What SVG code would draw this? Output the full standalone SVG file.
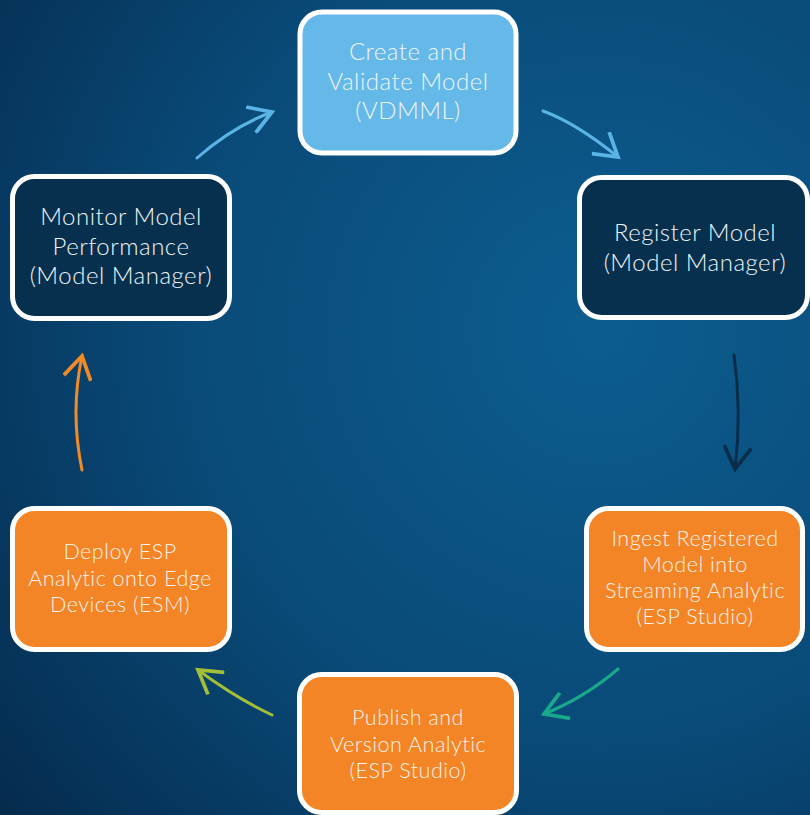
<svg xmlns="http://www.w3.org/2000/svg" width="810" height="815" viewBox="0 0 810 815">
  <defs>
    <radialGradient id="bg" cx="600" cy="330" r="760" gradientUnits="userSpaceOnUse">
      <stop offset="0" stop-color="#0c5d8f"/>
      <stop offset="0.55" stop-color="#094a78"/>
      <stop offset="1" stop-color="#052c4f"/>
    </radialGradient>
    <marker id="mLight" markerUnits="userSpaceOnUse" markerWidth="30" markerHeight="30" viewBox="-20 -12 22 24" refX="0" refY="0" orient="auto">
      <path d="M-18,-11 L0,0 L-18,11" fill="none" stroke="#5ab4e6" stroke-width="3"/>
    </marker>
    <marker id="mNavy" markerUnits="userSpaceOnUse" markerWidth="30" markerHeight="30" viewBox="-20 -12 22 24" refX="0" refY="0" orient="auto">
      <path d="M-18,-11 L0,0 L-18,11" fill="none" stroke="#0a2e4a" stroke-width="3"/>
    </marker>
    <marker id="mTeal" markerUnits="userSpaceOnUse" markerWidth="30" markerHeight="30" viewBox="-20 -12 22 24" refX="0" refY="0" orient="auto">
      <path d="M-18,-11 L0,0 L-18,11" fill="none" stroke="#17a98a" stroke-width="3"/>
    </marker>
    <marker id="mLime" markerUnits="userSpaceOnUse" markerWidth="30" markerHeight="30" viewBox="-20 -12 22 24" refX="0" refY="0" orient="auto">
      <path d="M-18,-11 L0,0 L-18,11" fill="none" stroke="#a3bf37" stroke-width="3"/>
    </marker>
    <marker id="mOrange" markerUnits="userSpaceOnUse" markerWidth="30" markerHeight="30" viewBox="-20 -12 22 24" refX="0" refY="0" orient="auto">
      <path d="M-18,-11 L0,0 L-18,11" fill="none" stroke="#f28a25" stroke-width="3"/>
    </marker>
  </defs>
  <style>
    .box { stroke: #ffffff; stroke-width: 5; }
    .light { fill: #64b9e8; }
    .navy { fill: #06304d; }
    .orange { fill: #f38526; }
    .t { font-family: Lato, "Open Sans", sans-serif; font-size: 24px; font-weight: 300; letter-spacing: 0.5px; fill: #eef4f8; text-anchor: middle; }
    .s { font-family: Lato, "Open Sans", sans-serif; font-size: 21.5px; font-weight: 300; letter-spacing: 0.5px; fill: #fdf1e6; text-anchor: middle; }
    .c { fill: none; stroke-width: 3; stroke-linecap: round; }
  </style>
  <rect x="0" y="0" width="810" height="815" fill="url(#bg)"/>

  <g id="connectors">
    <path class="c" d="M197,158 Q232,127 272,112" stroke="#5ab4e6" marker-end="url(#mLight)"/>
    <path class="c" d="M543,111 Q576,123 618,157" stroke="#5ab4e6" marker-end="url(#mLight)"/>
    <path class="c" d="M734,355 Q742,412 735,469" stroke="#0a2e4a" marker-end="url(#mNavy)"/>
    <path class="c" d="M618,669 Q584,698 544,714" stroke="#17a98a" marker-end="url(#mTeal)"/>
    <path class="c" d="M272,715 Q236,698 198,670" stroke="#a3bf37" marker-end="url(#mLime)"/>
    <path class="c" d="M82,470 Q70,412 82,356" stroke="#f28a25" marker-end="url(#mOrange)"/>
  </g>

  <g id="create">
    <rect class="box light" x="300" y="12" width="216" height="141" rx="22"/>
    <text class="t" x="408" y="60">Create and</text>
    <text class="t" x="408" y="89.5">Validate Model</text>
    <text class="t" x="408" y="119">(VDMML)</text>
  </g>
  <g id="register">
    <rect class="box navy" x="579.5" y="177.5" width="228" height="140" rx="22"/>
    <text class="t" x="695" y="241">Register Model</text>
    <text class="t" x="695" y="270.5">(Model Manager)</text>
  </g>
  <g id="ingest">
    <rect class="box orange" x="586.5" y="508.5" width="216" height="141" rx="22"/>
    <text class="s" x="695" y="546">Ingest Registered</text>
    <text class="s" x="695" y="572">Model into</text>
    <text class="s" x="695" y="598">Streaming Analytic</text>
    <text class="s" x="695" y="624">(ESP Studio)</text>
  </g>
  <g id="publish">
    <rect class="box orange" x="299.5" y="674.5" width="217" height="138" rx="22"/>
    <text class="s" x="408" y="725">Publish and</text>
    <text class="s" x="408" y="752">Version Analytic</text>
    <text class="s" x="408" y="778">(ESP Studio)</text>
  </g>
  <g id="deploy">
    <rect class="box orange" x="12.5" y="508.5" width="217" height="141" rx="22"/>
    <text class="s" x="120" y="559">Deploy ESP</text>
    <text class="s" x="120" y="586">Analytic onto Edge</text>
    <text class="s" x="120" y="612">Devices (ESM)</text>
  </g>
  <g id="monitor">
    <rect class="box navy" x="12.5" y="176.5" width="217" height="142" rx="22"/>
    <text class="t" x="121" y="225">Monitor Model</text>
    <text class="t" x="121" y="254.5">Performance</text>
    <text class="t" x="121" y="284">(Model Manager)</text>
  </g>
</svg>
